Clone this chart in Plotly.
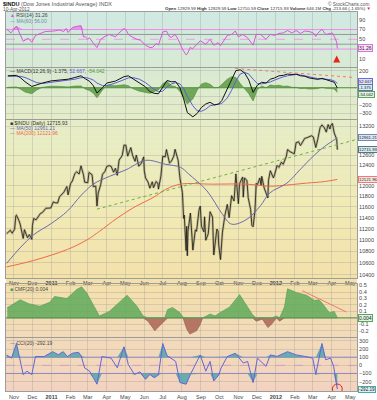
import math
import plotly.graph_objects as go
from plotly.subplots import make_subplots

# ---------------- DATA ----------------
price_dates = ["2010-10-20","2010-10-22","2010-10-26","2010-10-29","2010-11-02","2010-11-04","2010-11-05","2010-11-09","2010-11-11",
"2010-11-16","2010-11-18","2010-11-23","2010-11-26","2010-11-30","2010-12-01","2010-12-03","2010-12-07","2010-12-10","2010-12-14",
"2010-12-17","2010-12-21","2010-12-23","2010-12-28","2010-12-31","2011-01-04","2011-01-07","2011-01-11","2011-01-14","2011-01-18",
"2011-01-21","2011-01-26","2011-01-28","2011-02-01","2011-02-04","2011-02-08","2011-02-11","2011-02-15","2011-02-18","2011-02-22",
"2011-02-24","2011-03-01","2011-03-03","2011-03-08","2011-03-10","2011-03-14","2011-03-16","2011-03-18","2011-03-22","2011-03-25",
"2011-03-29","2011-04-01","2011-04-05","2011-04-08","2011-04-12","2011-04-15","2011-04-18","2011-04-21","2011-04-26","2011-04-29",
"2011-05-02","2011-05-05","2011-05-10","2011-05-13","2011-05-17","2011-05-19","2011-05-23","2011-05-27","2011-05-31","2011-06-01",
"2011-06-03","2011-06-07","2011-06-10","2011-06-14","2011-06-16","2011-06-20","2011-06-23","2011-06-24","2011-06-28","2011-07-01",
"2011-07-05","2011-07-07","2011-07-12","2011-07-15","2011-07-19","2011-07-21","2011-07-26","2011-07-29","2011-08-02","2011-08-04",
"2011-08-05","2011-08-08","2011-08-09","2011-08-10","2011-08-11","2011-08-15","2011-08-18","2011-08-19","2011-08-23","2011-08-25",
"2011-08-29","2011-08-31","2011-09-02","2011-09-06","2011-09-07","2011-09-09","2011-09-13","2011-09-16","2011-09-20","2011-09-22",
"2011-09-27","2011-09-29","2011-09-30","2011-10-03","2011-10-04","2011-10-06","2011-10-10","2011-10-14","2011-10-17","2011-10-21",
"2011-10-25","2011-10-27","2011-10-28","2011-11-01","2011-11-03","2011-11-08","2011-11-09","2011-11-11","2011-11-15","2011-11-17",
"2011-11-21","2011-11-23","2011-11-25","2011-11-28","2011-11-30","2011-12-02","2011-12-06","2011-12-08","2011-12-09","2011-12-13",
"2011-12-16","2011-12-19","2011-12-20","2011-12-23","2011-12-28","2011-12-30","2012-01-03","2012-01-06","2012-01-10","2012-01-13",
"2012-01-18","2012-01-20","2012-01-24","2012-01-27","2012-01-31","2012-02-03","2012-02-07","2012-02-10","2012-02-14","2012-02-17",
"2012-02-21","2012-02-24","2012-02-28","2012-03-02","2012-03-06","2012-03-09","2012-03-13","2012-03-16","2012-03-20","2012-03-23",
"2012-03-26","2012-03-29","2012-03-30","2012-04-02","2012-04-04","2012-04-05","2012-04-09","2012-04-10"]
price_close = [11108,11133,11169,11118,11188,11434,11444,11346,11283,
11023,11181,11036,11092,11006,11255,11382,11359,11410,11476,
11491,11533,11573,11575,11578,11691,11675,11671,11787,11837,
11871,11985,11824,12040,12092,12234,12273,12226,12391,12213,
12068,12058,12258,12214,11984,11993,11613,11858,12018,12221,
12280,12377,12394,12380,12263,12341,12202,12505,12595,12811,
12807,12584,12760,12596,12479,12606,12381,12441,12570,12290,
12151,12071,11952,12076,11962,12080,12050,11934,12189,12582,
12570,12719,12447,12480,12587,12724,12502,12143,11867,11384,
11445,10810,11240,10720,11144,11483,10991,10818,11177,11150,
11540,11614,11240,11140,11415,10992,11106,11509,11408,10733,
11191,11154,10913,10655,10809,11124,11434,11644,11397,11809,
11707,12209,12231,11658,12044,12170,11780,12153,12096,11771,
11548,11258,11231,11524,12046,12019,12150,11997,12184,11955,
11867,11766,12103,12294,12151,12218,12398,12360,12462,12422,
12579,12720,12675,12660,12633,12862,12879,12801,12879,12950,
12966,12983,13005,12978,12759,12922,13178,13233,13170,13081,
13241,13146,13212,13264,13074,13060,12929,12716]

ma50_dates = ["2010-10-20","2010-11-12","2010-12-03","2010-12-30","2011-01-27","2011-02-17","2011-03-10","2011-04-05",
"2011-05-02","2011-06-03","2011-07-06","2011-07-30","2011-08-12","2011-09-11","2011-10-05","2011-10-21","2011-11-15",
"2011-12-07","2011-12-22","2012-01-19","2012-02-09","2012-03-04","2012-03-20","2012-04-10"]
ma50_vals = [10590,10870,11090,11280,11520,11800,12030,12180,12310,12500,12420,12360,12230,11900,11480,11280,11370,
11620,11860,12050,12310,12610,12780,12961]

ma200_dates = ["2010-10-20","2010-12-03","2011-01-27","2011-02-28","2011-03-20","2011-04-18","2011-05-20","2011-06-15",
"2011-07-06","2011-07-30","2011-09-20","2011-11-15","2011-12-20","2012-01-07","2012-02-20","2012-03-20","2012-04-10"]
ma200_vals = [10530,10640,10830,11000,11150,11390,11620,11770,11930,12030,12030,12030,11990,12000,12050,12080,12122]

price_trend_dates = ["2011-03-16","2012-05-10"]
price_trend_vals = [11555,12922]

rsi_dates = ["2010-10-20","2010-10-27","2010-11-05","2010-11-16","2010-11-24","2010-11-30","2010-12-06","2010-12-14",
"2010-12-22","2011-01-05","2011-01-14","2011-01-21","2011-01-25","2011-01-28","2011-02-01","2011-02-04","2011-02-09",
"2011-02-15","2011-02-18","2011-02-22","2011-02-25","2011-03-01","2011-03-04","2011-03-10","2011-03-16","2011-03-22",
"2011-03-29","2011-04-05","2011-04-15","2011-04-20","2011-04-29","2011-05-03","2011-05-06","2011-05-12","2011-05-20",
"2011-05-26","2011-06-03","2011-06-10","2011-06-15","2011-06-21","2011-06-24","2011-07-01","2011-07-07","2011-07-12",
"2011-07-15","2011-07-21","2011-07-26","2011-08-02","2011-08-08","2011-08-10","2011-08-15","2011-08-18","2011-08-26",
"2011-08-31","2011-09-09","2011-09-16","2011-09-22","2011-09-29","2011-10-03","2011-10-10","2011-10-14","2011-10-21",
"2011-10-27","2011-11-01","2011-11-08","2011-11-16","2011-11-25","2011-11-30","2011-12-07","2011-12-16","2011-12-23",
"2011-12-30","2012-01-06","2012-01-13","2012-01-20","2012-01-27","2012-02-03","2012-02-10","2012-02-17","2012-02-24",
"2012-03-02","2012-03-06","2012-03-09","2012-03-16","2012-03-20","2012-03-23","2012-03-30","2012-04-02","2012-04-05",
"2012-04-09","2012-04-10"]
rsi_vals = [71,63,77,46,52,44,58,62,66,67,69,66,72,64,70,74,76,77,78,55,55,50,53,42,33,50,56,60,55,62,72,68,60,55,50,
48,38,33,34,42,38,65,67,55,54,60,50,30,18,20,34,30,40,47,40,50,38,43,37,52,58,60,67,55,60,53,38,60,60,50,60,58,
62,63,68,63,68,62,67,66,63,56,62,71,63,60,62,63,56,44,31.26]

macd_dates = ["2010-10-22","2010-11-05","2010-11-12","2010-11-19","2010-11-30","2010-12-08","2010-12-17","2010-12-31",
"2011-01-14","2011-01-28","2011-02-08","2011-02-18","2011-02-25","2011-03-04","2011-03-10","2011-03-16","2011-03-25",
"2011-04-01","2011-04-15","2011-04-29","2011-05-06","2011-05-13","2011-05-24","2011-06-03","2011-06-10","2011-06-17",
"2011-06-24","2011-07-01","2011-07-08","2011-07-15","2011-07-22","2011-07-29","2011-08-04","2011-08-10","2011-08-19",
"2011-08-26","2011-09-02","2011-09-09","2011-09-16","2011-09-23","2011-09-30","2011-10-05","2011-10-14","2011-10-21",
"2011-10-28","2011-11-04","2011-11-11","2011-11-18","2011-11-25","2011-12-02","2011-12-09","2011-12-16","2011-12-23",
"2011-12-30","2012-01-06","2012-01-13","2012-01-20","2012-01-27","2012-02-03","2012-02-10","2012-02-17","2012-02-24",
"2012-03-02","2012-03-09","2012-03-16","2012-03-23","2012-03-30","2012-04-05","2012-04-10"]
macd_vals = [140,145,115,70,15,35,55,80,92,100,120,140,105,75,25,-62,0,55,78,130,140,110,60,10,-45,-65,-70,10,85,70,
72,0,-130,-290,-340,-300,-230,-190,-170,-200,-190,-150,-20,100,200,210,175,90,-55,30,65,55,100,115,140,145,160,155,
160,140,135,115,105,98,110,95,85,65,-1.375]
signal_vals = [135,135,133,120,85,60,50,62,76,90,100,118,120,108,90,55,25,25,55,95,115,120,100,60,20,-20,-45,-40,10,
45,60,45,-10,-100,-210,-270,-275,-250,-210,-200,-195,-185,-120,-30,80,160,180,160,100,50,45,55,68,90,110,128,140,
150,155,150,142,130,118,108,105,102,95,80,52.667]

macd_trend_dates = ["2011-10-27","2012-05-08"]
macd_trend_vals = [225,120]

cmf_dates = ["2010-10-21","2010-10-25","2010-11-11","2010-11-25","2010-12-13","2010-12-29","2011-01-06","2011-01-26",
"2011-02-11","2011-02-19","2011-02-27","2011-03-12","2011-03-20","2011-04-05","2011-04-27","2011-05-04","2011-05-20",
"2011-05-30","2011-06-07","2011-06-18","2011-06-26","2011-07-04","2011-07-09","2011-07-17","2011-07-29","2011-08-03",
"2011-08-09","2011-08-14","2011-08-25","2011-08-30","2011-09-04","2011-09-16","2011-09-24","2011-10-02","2011-10-18",
"2011-11-03","2011-11-15","2011-11-24","2011-11-30","2011-12-10","2011-12-19","2011-12-25","2012-01-02","2012-01-07",
"2012-01-15","2012-01-20","2012-02-04","2012-02-20","2012-03-04","2012-03-11","2012-03-17","2012-03-28","2012-04-05",
"2012-04-10"]
cmf_vals = [0.16,0.18,0.28,0.22,0.18,0.24,0.33,0.30,0.44,0.48,0.39,0.17,0.03,0.10,0.30,0.35,0.18,0.03,-0.05,-0.20,
-0.12,-0.05,0.13,0.16,0.08,0.01,-0.17,-0.25,-0.20,-0.12,0.00,0.06,0.03,0.08,0.17,0.36,0.18,0.05,-0.05,-0.02,-0.15,
-0.10,0.03,-0.05,0.17,0.45,0.39,0.35,0.27,0.28,0.22,0.08,0.10,0.004]

cmf_trend_dates = ["2012-02-13","2012-04-25"]
cmf_trend_vals = [0.42,0.09]

cci_dates = ["2010-10-20","2010-10-28","2010-11-05","2010-11-10","2010-11-16","2010-11-22","2010-11-30","2010-12-06",
"2010-12-20","2011-01-03","2011-01-12","2011-01-20","2011-01-27","2011-02-04","2011-02-14","2011-02-18","2011-02-24",
"2011-03-04","2011-03-10","2011-03-16","2011-03-24","2011-04-08","2011-04-18","2011-04-29","2011-05-06","2011-05-16",
"2011-05-25","2011-06-03","2011-06-10","2011-06-17","2011-06-24","2011-07-01","2011-07-08","2011-07-15","2011-07-22",
"2011-07-29","2011-08-08","2011-08-15","2011-08-31","2011-09-09","2011-09-16","2011-09-22","2011-09-30","2011-10-04",
"2011-10-14","2011-10-27","2011-11-09","2011-11-16","2011-11-25","2011-12-02","2011-12-16","2011-12-23","2012-01-03",
"2012-01-20","2012-02-03","2012-02-17","2012-03-01","2012-03-06","2012-03-16","2012-03-22","2012-03-30","2012-04-04",
"2012-04-10"]
cci_vals = [128,88,268,108,-112,-72,-112,108,108,168,130,168,108,148,160,120,-32,-72,-150,-232,108,88,-30,228,8,-112,
-80,-172,-112,-152,-120,268,120,88,48,-212,-232,-112,128,-72,48,-192,-120,-32,108,148,28,48,-212,88,-12,128,110,
168,128,110,88,-112,268,68,88,-12,-292.19]

month_ticks = ["2010-11-01","2010-12-01","2011-01-01","2011-02-01","2011-03-01","2011-04-01","2011-05-01","2011-06-01",
"2011-07-01","2011-08-01","2011-09-01","2011-10-01","2011-11-01","2011-12-01","2012-01-01","2012-02-01","2012-03-01",
"2012-04-01","2012-05-01"]
month_labels = ["Nov","Dec","<b>2011</b>","Feb","Mar","Apr","May","Jun","Jul","Aug","Sep","Oct","Nov","Dec",
"<b>2012</b>","Feb","Mar","Apr","May"]

price_ticks = [10400,10600,10800,11000,11200,11400,11600,11800,12000,12400,12600,13200]
rsi_ticks = [10, 50, 70, 90]
macd_ticks = [200, -100, -200, -300]
cmf_ticks = [0.5, 0.4, 0.3, 0.2, 0.1, -0.1, -0.2]
cci_ticks = [300, 200, 100, 0, -100, -200]

# ---------------- FIGURE ----------------
W, H = 377, 400
ML, MR = 6, 20
fig = make_subplots(rows=5, cols=1, shared_xaxes=True, vertical_spacing=0.0)

def py(ypix):
    return 1 - ypix / H

domains = [(11, 66), (67, 119), (120, 278), (284, 338), (339, 392)]

FONT = "Liberation Sans"
tickfont = dict(size=5.5, color="#444", family=FONT)

# gradient background bands
stops = [(11, (208, 233, 226)), (66, (216, 234, 212)), (120, (229, 236, 199)), (200, (240, 235, 183)),
         (278, (243, 225, 170)), (338, (242, 218, 184)), (392, (243, 211, 191))]
shapes = []
y = 11
step = 5
while y < 392:
    yc = y + step / 2
    for i in range(len(stops) - 1):
        if yc <= stops[i + 1][0] or i == len(stops) - 2:
            a, b = stops[i], stops[i + 1]
            t = min(max((yc - a[0]) / (b[0] - a[0]), 0), 1)
            c = tuple(int(round(a[1][k] + (b[1][k] - a[1][k]) * t)) for k in range(3))
            break
    shapes.append(dict(type="rect", xref="paper", yref="paper", x0=0, x1=1, y0=py(min(y + step + 0.5, 392)),
                       y1=py(y), fillcolor="rgb(%d,%d,%d)" % c, line=dict(width=0), layer="below"))
    y += step

# ---- RSI ----
fig.add_trace(go.Scatter(x=rsi_dates, y=[70] * len(rsi_vals), mode="lines", line=dict(width=0), hoverinfo="skip"), 1, 1)
fig.add_trace(go.Scatter(x=rsi_dates, y=[max(v, 70) for v in rsi_vals], mode="lines", line=dict(width=0),
                         fill="tonexty", fillcolor="rgba(232,100,232,0.6)", hoverinfo="skip"), 1, 1)
fig.add_trace(go.Scatter(x=rsi_dates, y=rsi_vals, mode="lines", line=dict(color="#d955d9", width=1)), 1, 1)
arrow_date, arrow_val = ["2012-04-09"], [17]
fig.add_trace(go.Scatter(x=arrow_date, y=arrow_val, mode="markers",
                         marker=dict(symbol="arrow-up", size=7, color="#e8231c")), 1, 1)
for lv, col, dash in [(70, "#ee8cee", "solid"), (30, "#ee8cee", "solid"), (50, "#ee9cee", "dash"),
                      (60, "#8d9a98", "solid"), (40, "#8d9a98", "solid")]:
    shapes.append(dict(type="line", xref="x domain", yref="y", x0=0, x1=1, y0=lv, y1=lv,
                       line=dict(color=col, width=1, dash=dash), layer="below"))

# ---- MACD ----
hist = [m - s for m, s in zip(macd_vals, signal_vals)]
fig.add_trace(go.Scatter(x=macd_dates, y=hist, mode="lines", line=dict(color="#4d8a33", width=0.6),
                         fill="tozeroy", fillcolor="rgba(85,150,60,0.8)"), 2, 1)
fig.add_trace(go.Scatter(x=macd_dates, y=signal_vals, mode="lines", line=dict(color="#5c5cd8", width=1)), 2, 1)
fig.add_trace(go.Scatter(x=macd_dates, y=macd_vals, mode="lines", line=dict(color="#111", width=1)), 2, 1)
fig.add_trace(go.Scatter(x=macd_trend_dates, y=macd_trend_vals, mode="lines",
                         line=dict(color="#f07a6a", width=1, dash="dot")), 2, 1)
shapes.append(dict(type="line", xref="x2 domain", yref="y2", x0=0, x1=1, y0=0, y1=0,
                   line=dict(color="#4d8a33", width=1), layer="below"))

# ---- PRICE ----
fig.add_trace(go.Scatter(x=price_dates, y=price_close, mode="lines",
                         line=dict(color="rgba(150,140,105,0.5)", width=2.4)), 3, 1)
fig.add_trace(go.Scatter(x=price_dates, y=price_close, mode="lines", line=dict(color="#1a1a1a", width=0.8)), 3, 1)
fig.add_trace(go.Scatter(x=ma200_dates, y=ma200_vals, mode="lines", line=dict(color="#f06a48", width=1), line_shape="spline"), 3, 1)
fig.add_trace(go.Scatter(x=ma50_dates, y=ma50_vals, mode="lines", line=dict(color="#6b6baa", width=1), line_shape="spline"), 3, 1)
fig.add_trace(go.Scatter(x=price_trend_dates, y=price_trend_vals, mode="lines",
                         line=dict(color="#6fb043", width=1, dash="dot")), 3, 1)
shapes.append(dict(type="circle", xref="x3", yref="y3", x0="2012-04-01", x1="2012-04-20",
                   y0=math.log10(12640), y1=math.log10(13040), line=dict(color="#e8231c", width=1.2)))

# ---- CMF ----
fig.add_trace(go.Scatter(x=cmf_dates, y=[max(v, 0) for v in cmf_vals], mode="lines",
                         line=dict(color="#4f9a4f", width=0.6), fill="tozeroy", fillcolor="rgba(95,170,90,0.85)"), 4, 1)
fig.add_trace(go.Scatter(x=cmf_dates, y=[min(v, 0) for v in cmf_vals], mode="lines",
                         line=dict(color="#9a5a4a", width=0.6), fill="tozeroy", fillcolor="rgba(170,100,85,0.85)"), 4, 1)
fig.add_trace(go.Scatter(x=cmf_trend_dates, y=cmf_trend_vals, mode="lines", line=dict(color="#f07a6a", width=1)), 4, 1)
shapes.append(dict(type="line", xref="x4 domain", yref="y4", x0=0, x1=1, y0=0, y1=0,
                   line=dict(color="#5a9a5a", width=1.2)))

# ---- CCI ----
fig.add_trace(go.Scatter(x=cci_dates, y=[100] * len(cci_vals), mode="lines", line=dict(width=0), hoverinfo="skip"), 5, 1)
fig.add_trace(go.Scatter(x=cci_dates, y=[max(v, 100) for v in cci_vals], mode="lines", line=dict(width=0),
                         fill="tonexty", fillcolor="rgba(80,165,170,0.85)"), 5, 1)
fig.add_trace(go.Scatter(x=cci_dates, y=[-100] * len(cci_vals), mode="lines", line=dict(width=0), hoverinfo="skip"), 5, 1)
fig.add_trace(go.Scatter(x=cci_dates, y=[min(v, -100) for v in cci_vals], mode="lines", line=dict(width=0),
                         fill="tonexty", fillcolor="rgba(80,165,170,0.85)"), 5, 1)
fig.add_trace(go.Scatter(x=cci_dates, y=cci_vals, mode="lines", line=dict(color="#6565d5", width=1)), 5, 1)
for lv, col, dash in [(100, "#8c84d8", "solid"), (-100, "#8c84d8", "solid"), (0, "#e0a8d8", "dash")]:
    shapes.append(dict(type="line", xref="x5 domain", yref="y5", x0=0, x1=1, y0=lv, y1=lv,
                       line=dict(color=col, width=1, dash=dash), layer="below"))
shapes.append(dict(type="circle", xref="x5", yref="y5", x0="2012-04-02", x1="2012-04-18", y0=-350, y1=-230,
                   line=dict(color="#e8231c", width=1)))

# ---------------- AXES ----------------
for i in range(1, 6):
    d0, d1 = domains[i - 1]
    fig.update_yaxes(row=i, col=1, domain=[py(d1), py(d0)], side="right", tickfont=tickfont, ticks="",
                     showline=True, mirror=True, linecolor="#9c9c9c", linewidth=1,
                     gridcolor="rgba(150,150,150,0.3)", zeroline=False)
    fig.update_xaxes(row=i, col=1, range=["2010-10-19", "2012-05-12"], tickvals=month_ticks, ticktext=month_labels,
                     showgrid=True, gridcolor="rgba(150,150,150,0.3)", showline=True, mirror=True,
                     linecolor="#9c9c9c", linewidth=1, tickfont=tickfont, ticks="", zeroline=False,
                     showticklabels=(i in (3, 5)))

fig.update_yaxes(row=1, col=1, range=[-6, 106], tickvals=rsi_ticks, showgrid=False)
fig.update_yaxes(row=2, col=1, range=[-370, 235], tickvals=macd_ticks)
fig.update_yaxes(row=3, col=1, type="log", range=[math.log10(10350), math.log10(13330)],
                 tickvals=price_ticks, ticktext=[str(v) for v in price_ticks])
fig.update_yaxes(row=4, col=1, range=[-0.30, 0.53], tickvals=cmf_ticks, ticktext=[f"{v:.1f}" for v in cmf_ticks])
fig.update_yaxes(row=5, col=1, range=[-316, 332], tickvals=cci_ticks)

# ---------------- ANNOTATIONS ----------------
ann = []
def xp(px):
    return (px - ML) / (W - ML - MR)

def txt(xpix, ypix, text, size=5.5, color="#333", anchor="left"):
    ann.append(dict(xref="paper", yref="paper", x=xp(xpix), y=py(ypix), text=text, showarrow=False,
                    xanchor=anchor, yanchor="middle", font=dict(size=size, color=color, family=FONT)))

txt(1, 3.5, "<b>$INDU</b> <span style='color:#555'>(Dow Jones Industrial Average) INDX</span>", 5.5, "#111")
txt(1, 9, "10-Apr-2012", 4.8, "#555")
txt(371, 3, "© StockCharts.com", 4.8, "#555", "right")
txt(373, 8, "<b>Open</b> 12929.59 <b>High</b> 12929.59 <b>Low</b> 12710.59 <b>Close</b> 12715.93 "
            "<b>Volume</b> 646.1M <b>Chg</b> -213.66 (-1.65%) <span style='color:#e8231c'>▼</span>", 4.4, "#333", "right")

txt(8, 14.5, "<span style='color:#d955d9'>▲</span> RSI(14) 31.26", 5, "#444")
txt(8, 20, "<span style='color:#6fa0b0'>—</span> MA(60) 56.00", 5, "#6d8f9c")
txt(8, 70, "— MACD(12,26,9) -1.375, <span style='color:#5c5cd8'>52.667</span>, "
             "<span style='color:#4d9a33'>-54.042</span>", 5, "#333")
txt(8, 123, "■ $INDU (Daily) 12715.93", 5, "#333")
txt(8, 127.8, "<span style='color:#6b6baa'>— MA(50) 12961.21</span>", 5, "#333")
txt(8, 132.6, "<span style='color:#f06a48'>— MA(200) 12121.96</span>", 5, "#333")
txt(8, 289.5, "<span style='color:#4f9a4f'>■</span> CMF(20) 0.004", 5, "#444")
txt(8, 343.5, "<span style='color:#6565d5'>—</span> CCI(20) -292.19", 5, "#444")

def box(yref, yval, text, border, bg, size=5, shift=0):
    ann.append(dict(xref="paper", yref=yref, x=1.003, y=yval, text=text, showarrow=False, xanchor="left",
                    yanchor="middle", font=dict(size=size, color="#222", family=FONT), bgcolor=bg,
                    bordercolor=border, borderwidth=1, borderpad=0, yshift=shift))

box("y", rsi_vals[-1], "31.26", "#e070e0", "#fbe4fb")
box("y2", signal_vals[-1], "52.667", "#6a6ad8", "#e2e2fa", 4.2, 2)
box("y2", macd_vals[-1], "-1.375", "#5577aa", "#dde8f4", 4.2, 0)
box("y2", hist[-1], "-54.042", "#5aa55a", "#e0f4e0", 4.2, -2)
box("y3", math.log10(ma50_vals[-1]), "12961.21", "#6a8ab8", "#dde8f4", 4.3)
box("y3", math.log10(price_close[-1]), "12715.93", "#4a7a8a", "#d8ecf0", 4.3)
box("y3", math.log10(ma200_vals[-1]), "12121.96", "#f07a6a", "#fde6e2", 4.3)
box("y4", cmf_vals[-1], "0.004", "#5aa55a", "#e0f4e0")
box("y5", cci_vals[-1], "-292.19", "#50a5aa", "#dcf2f2", 4.6)

fig.update_layout(width=W, height=H, margin=dict(l=ML, r=MR, t=0, b=0), paper_bgcolor="white",
                  plot_bgcolor="rgba(0,0,0,0)", showlegend=False, shapes=shapes, annotations=ann,
                  font=dict(family=FONT, size=6), hovermode=False)
fig.write_html("out.html", config={"displayModeBar": False, "staticPlot": True},
               post_script="document.body.style.margin='0';document.body.style.overflow='hidden';"
                           "document.documentElement.style.overflow='hidden';")
